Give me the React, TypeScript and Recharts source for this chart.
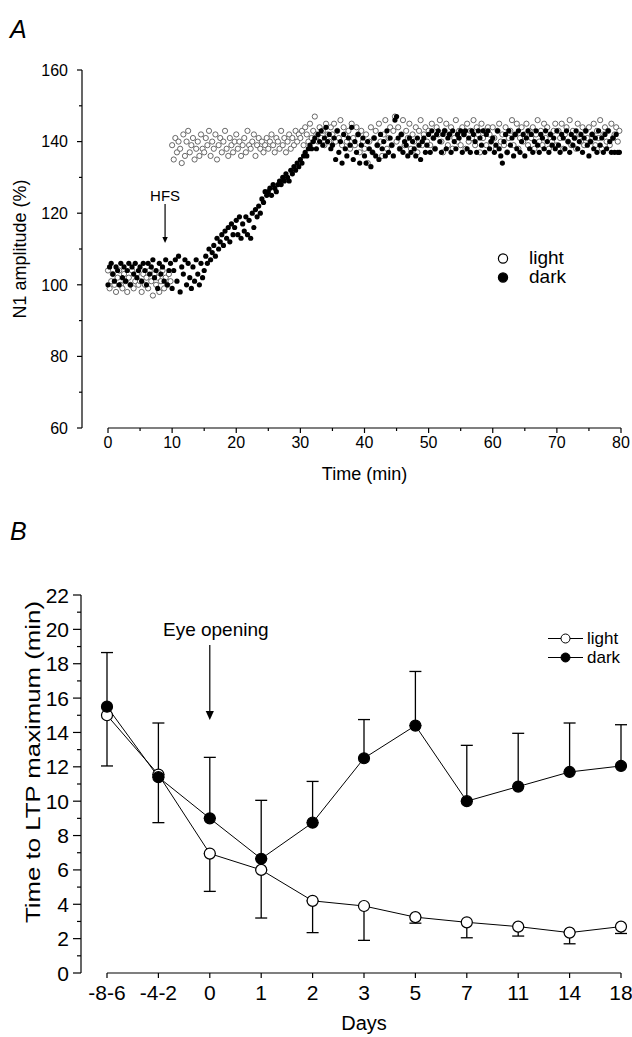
import React from "react";
import {
  ScatterChart,
  Scatter,
  LineChart,
  Line,
  ErrorBar,
  XAxis,
  YAxis,
  ReferenceLine,
  Legend,
  Label,
} from "recharts";

const FONT = '"Liberation Sans", Arial, Helvetica, sans-serif';

// ---- Panel A: N1 amplitude (%) after HFS, one sweep every 15 s ----
const SAMPLE_MIN = 0.25;
const HFS_MIN = 8.9;

const lightAmp = [
  104, 99, 101, 103, 100, 98, 102, 104, 100, 99, 103, 101, 98, 102, 100, 104, 99, 101, 103, 100,
  101, 98, 103, 100, 102, 99, 104, 101, 97, 103, 100, 102, 98, 101, 104, 99, 102, 100, 103, 101,
  139, 135, 141, 137, 140, 138, 134, 142, 136, 140, 143, 137, 139, 141, 135, 138, 140, 136, 142, 138,
  137, 141, 139, 143, 136, 140, 138, 142, 135, 139, 141, 137, 140, 143, 138, 136, 141, 139, 137, 140,
  142, 138, 140, 136, 139, 141, 137, 143, 139, 138, 140, 142, 136, 139, 141, 138, 140, 137, 139, 141,
  138, 140, 142, 139, 137, 141, 140, 138, 143, 139, 141, 137, 140, 142, 138, 141, 139, 143, 140, 142,
  141, 143, 139, 144, 142, 140, 145, 141, 143, 147, 142, 140, 144, 141, 143, 139, 145, 142, 140, 144,
  142, 145, 140, 143, 141, 146, 139, 144, 142, 140, 143, 138, 145, 141, 139, 144, 142, 137, 143, 140,
  138, 142, 134, 140, 144, 137, 141, 143, 139, 145, 140, 136, 142, 146, 138, 141, 144, 139, 143, 147,
  140, 144, 138, 142, 146, 139, 143, 141, 145, 138, 142, 140, 144, 137, 143, 146, 139, 142, 144, 140,
  143, 139, 145, 141, 138, 144, 142, 146, 140, 137, 143, 145, 139, 142, 144, 138, 141, 146, 140, 143,
  139, 144, 142, 138, 145, 140, 143, 141, 146, 139, 144, 142, 137, 145, 141, 143, 139, 144, 142, 140,
  144, 141, 138, 143, 145, 140, 142, 139, 144, 137, 141, 143, 146, 139, 142, 145, 138, 141, 144, 140,
  142, 145, 139, 143, 141, 144, 138, 142, 146, 140, 143, 139, 145, 141, 144, 138, 142, 140, 143, 145,
  139, 143, 141, 145, 138, 142, 144, 140, 146, 139, 143, 141, 138, 145, 142, 140, 144, 139, 143, 141,
  144, 140, 142, 145, 139, 143, 141, 146, 138, 142, 144, 140, 143, 139, 145, 141, 142, 144, 140, 143,
];

const darkAmp = [
  100, 105, 106, 103, 101, 105, 104, 100, 106, 102, 105, 101, 104, 106, 100, 105, 103, 106, 102, 104,
  105, 101, 106, 104, 100, 106, 103, 105, 107, 102, 104, 99, 106, 103, 105, 101, 107, 100, 104, 106,
  99, 104, 107, 101, 108, 98, 105, 103, 107, 100, 106, 102, 99, 105, 101, 107, 103, 100, 106, 102,
  104, 108, 106, 110, 107, 109, 111, 108, 113, 110, 112, 114, 111, 115, 113, 116, 112, 117, 114, 116,
  118, 114, 119, 113, 117, 115, 119, 114, 118, 113, 120, 116, 121, 119, 122, 120, 124, 123, 126, 125,
  126, 127, 125, 128, 127, 126, 128, 129, 128, 130, 129, 131, 130, 129, 132, 131, 133, 132, 134, 133,
  135, 134, 136, 137, 136, 138, 139, 138, 140, 141, 138, 142, 140, 143, 139, 141, 144, 140, 142, 138,
  139, 141, 135, 143, 137, 140, 134, 142, 138, 136, 141, 139, 144, 135, 140, 137, 142, 134, 139, 141,
  136, 134, 140, 138, 133, 137, 141, 136, 139, 135, 142, 138, 140, 136, 143, 137, 141, 139, 136, 146,
  147, 141, 138, 142, 137, 140, 139, 136, 141, 137, 140, 138, 136, 141, 139, 135, 140, 141, 137, 139,
  142, 137, 143, 141, 138, 142, 143, 140, 137, 142, 143, 138, 141, 142, 137, 143, 140, 138, 142, 141,
  143, 137, 142, 143, 138, 141, 137, 143, 142, 140, 137, 143, 141, 139, 143, 137, 142, 143, 138, 140,
  141, 137, 139, 143, 138, 136, 134, 140, 142, 137, 143, 139, 141, 136, 142, 138, 143, 137, 140, 142,
  136, 141, 143, 138, 142, 137, 140, 143, 139, 137, 142, 141, 138, 143, 140, 137, 142, 139, 141, 138,
  143, 139, 137, 142, 141, 138, 143, 140, 137, 142, 139, 141, 143, 138, 140, 142, 137, 141, 143, 139,
  136, 140, 142, 138, 141, 137, 143, 139, 141, 137, 142, 138, 143, 140, 137, 141, 137, 142, 137, 137,
];

const timeTicks = [0, 5, 10, 15, 20, 25, 30, 35, 40, 45, 50, 55, 60, 65, 70, 75, 80];
const ampTicks = [60, 70, 80, 90, 100, 110, 120, 130, 140, 150, 160];

// ---- Panel B: time to LTP maximum (min) by age ----
const days = ["-8-6", "-4-2", "0", "1", "2", "3", "5", "7", "11", "14", "18"];
const lightMean = [15.0, 11.55, 6.95, 6.0, 4.2, 3.9, 3.25, 2.95, 2.7, 2.35, 2.7];
const lightErrDown = [2.95, 2.8, 2.2, 2.8, 1.85, 2.0, 0.35, 0.9, 0.55, 0.65, 0.4];
const darkMean = [15.5, 11.4, 9.0, 6.65, 8.75, 12.5, 14.4, 10.0, 10.85, 11.7, 12.05];
const darkErrUp = [3.15, 3.15, 3.55, 3.4, 2.4, 2.25, 3.15, 3.25, 3.1, 2.85, 2.4];
const minTicks = [0, 1, 2, 3, 4, 5, 6, 7, 8, 9, 10, 11, 12, 13, 14, 15, 16, 17, 18, 19, 20, 21, 22];
const EYE_OPENING_INDEX = 2;

const SERIES_ORDER = ["light", "dark"];

const lightData = lightAmp.map((v, i) => ({ t: i * SAMPLE_MIN, v }));
const darkData = darkAmp.map((v, i) => ({ t: i * SAMPLE_MIN, v }));

const ageData = days.map((d, i) => ({
  idx: i,
  day: d,
  light: lightMean[i],
  lightErr: [lightErrDown[i], 0],
  dark: darkMean[i],
  darkErr: [0, darkErrUp[i]],
}));

const ordered = (payload: any[] = []) =>
  payload.slice().sort((a, b) => SERIES_ORDER.indexOf(a.value) - SERIES_ORDER.indexOf(b.value));

const TimeTick = ({ x, y, payload }: any) => {
  const major = payload.value % 10 === 0;
  return (
    <g>
      <line x1={x} x2={x} y1={y} y2={y + (major ? 5 : 3)} stroke="#000" strokeWidth={1.2} />
      {major && (
        <text x={x} y={y + 20} textAnchor="middle" fontSize={16} fontFamily={FONT} fill="#000">
          {payload.value}
        </text>
      )}
    </g>
  );
};

const AmpTick = ({ x, y, payload }: any) => {
  const major = payload.value % 20 === 0;
  return (
    <g>
      <line x1={x - (major ? 5 : 3)} x2={x} y1={y} y2={y} stroke="#000" strokeWidth={1.2} />
      {major && (
        <text x={x - 14} y={y} dy="0.36em" textAnchor="end" fontSize={16} fontFamily={FONT} fill="#000">
          {payload.value}
        </text>
      )}
    </g>
  );
};

const DayTick = ({ x, y, payload }: any) => (
  <g>
    <line x1={x} x2={x} y1={y} y2={y + 5} stroke="#000" strokeWidth={1.2} />
    <text x={x} y={y + 27} textAnchor="middle" fontSize={21} fontFamily={FONT} fill="#000">
      {days[payload.value]}
    </text>
  </g>
);

const MinTick = ({ x, y, payload }: any) => {
  const major = payload.value % 2 === 0;
  return (
    <g>
      <line x1={x - (major ? 8 : 4)} x2={x} y1={y} y2={y} stroke="#000" strokeWidth={1.2} />
      {major && (
        <text x={x - 12} y={y} dy="0.36em" textAnchor="end" fontSize={21} fontFamily={FONT} fill="#000">
          {payload.value}
        </text>
      )}
    </g>
  );
};

const Arrow = ({ x1, y1, x2, y2, text, fontSize, head, gap, dx }: any) => (
  <g>
    <line x1={x1} y1={y1} x2={x2} y2={y2 - head} stroke="#000" strokeWidth={1.2} />
    <polygon
      points={`${x2 - head / 2.2},${y2 - head} ${x2 + head / 2.2},${y2 - head} ${x2},${y2}`}
      fill="#000"
    />
    <text x={x1 + dx} y={y1 - gap} textAnchor="middle" fontSize={fontSize} fontFamily={FONT} fill="#000">
      {text}
    </text>
  </g>
);

const LegendA = ({ payload }: any) => (
  <div style={{ fontFamily: FONT, fontSize: 19, color: "#000" }}>
    {ordered(payload).map((e: any) => (
      <div key={e.value} style={{ display: "flex", alignItems: "center", height: 19 }}>
        <svg width={18} height={19}>
          <circle
            cx={9}
            cy={10.5}
            r={4.6}
            fill={e.value === "light" ? "#fff" : "#000"}
            stroke="#000"
            strokeWidth={1.2}
          />
        </svg>
        <span style={{ marginLeft: 17, lineHeight: "19px" }}>{e.value}</span>
      </div>
    ))}
  </div>
);

const LegendB = ({ payload }: any) => (
  <div style={{ fontFamily: FONT, fontSize: 17, color: "#000" }}>
    {ordered(payload).map((e: any) => (
      <div key={e.value} style={{ display: "flex", alignItems: "center", height: 19 }}>
        <svg width={38} height={19}>
          <line x1={2} x2={37} y1={9.5} y2={9.5} stroke="#000" strokeWidth={1} />
          <circle
            cx={19.5}
            cy={9.5}
            r={4.5}
            fill={e.value === "light" ? "#fff" : "#000"}
            stroke="#000"
            strokeWidth={1}
          />
        </svg>
        <span style={{ marginLeft: 3, lineHeight: "19px" }}>{e.value}</span>
      </div>
    ))}
  </div>
);

const panelLetter: React.CSSProperties = {
  position: "absolute",
  left: 10,
  fontFamily: FONT,
  fontStyle: "italic",
  fontSize: 25,
  lineHeight: "25px",
  color: "#000",
};

export default function App() {
  return (
    <div
      style={{
        position: "absolute",
        left: 0,
        top: 0,
        width: 632,
        height: 1037,
        background: "#fff",
        overflow: "hidden",
      }}
    >
      <div style={{ ...panelLetter, top: 17 }}>A</div>
      <div style={{ ...panelLetter, top: 519 }}>B</div>

      <div style={{ position: "absolute", left: 0, top: 0 }}>
        <ScatterChart width={632} height={500} margin={{ top: 70, right: 11, bottom: 12, left: 0 }}>
          <XAxis
            type="number"
            dataKey="t"
            domain={[-4.0546, 80]}
            ticks={timeTicks}
            interval={0}
            axisLine={false}
            tickLine={false}
            tickSize={0}
            tickMargin={0}
            height={60}
            tick={(p: any) => <TimeTick {...p} />}
          >
            <Label
              content={({ viewBox }: any) => (
                <text
                  x={viewBox.x + viewBox.width / 2 + 13}
                  y={viewBox.y + 52}
                  textAnchor="middle"
                  fontSize={18}
                  fontFamily={FONT}
                  fill="#000"
                >
                  Time (min)
                </text>
              )}
            />
          </XAxis>
          <YAxis
            type="number"
            dataKey="v"
            domain={[60, 160]}
            ticks={ampTicks}
            interval={0}
            width={82}
            axisLine={{ stroke: "#000", strokeWidth: 1.2 }}
            tickLine={false}
            tickSize={0}
            tickMargin={0}
            tick={(p: any) => <AmpTick {...p} />}
          >
            <Label
              content={({ viewBox }: any) => {
                const cx = viewBox.x + 20;
                const cy = viewBox.y + viewBox.height / 2;
                return (
                  <text
                    x={cx}
                    y={cy}
                    transform={`rotate(-90 ${cx} ${cy})`}
                    textAnchor="middle"
                    dominantBaseline="central"
                    fontSize={18}
                    fontFamily={FONT}
                    fill="#000"
                  >
                    N1 amplitude (%)
                  </text>
                );
              }}
            />
          </YAxis>
          <ReferenceLine
            segment={[
              { x: 0, y: 60 },
              { x: 80, y: 60 },
            ]}
            stroke="#000"
            strokeWidth={1.2}
            ifOverflow="visible"
          />
          <ReferenceLine
            segment={[
              { x: HFS_MIN, y: 122.6 },
              { x: HFS_MIN, y: 111.7 },
            ]}
            ifOverflow="visible"
            shape={(p: any) => <Arrow {...p} text="HFS" fontSize={15} head={6} gap={3} dx={0} />}
          />
          <Scatter
            name="light"
            data={lightData}
            isAnimationActive={false}
            shape={(p: any) => (
              <circle cx={p.cx} cy={p.cy} r={2.6} fill="#fff" stroke="#444" strokeWidth={0.8} />
            )}
          />
          <Scatter
            name="dark"
            data={darkData}
            isAnimationActive={false}
            shape={(p: any) => <circle cx={p.cx} cy={p.cy} r={2.6} fill="#000" />}
          />
          <Legend
            layout="vertical"
            align="center"
            verticalAlign="middle"
            content={<LegendA />}
            wrapperStyle={{ left: 494, top: 248, width: 120 }}
          />
        </ScatterChart>
      </div>

      <div style={{ position: "absolute", left: 0, top: 500 }}>
        <LineChart
          width={632}
          height={537}
          data={ageData}
          margin={{ top: 95, right: 11, bottom: 0, left: 0 }}
        >
          <XAxis
            type="number"
            dataKey="idx"
            domain={[-0.5058, 10]}
            ticks={days.map((_, i) => i)}
            interval={0}
            axisLine={false}
            tickLine={false}
            tickSize={0}
            tickMargin={0}
            height={64}
            tick={(p: any) => <DayTick {...p} />}
          >
            <Label
              content={({ viewBox }: any) => (
                <text
                  x={viewBox.x + viewBox.width / 2 + 13}
                  y={viewBox.y + 57}
                  textAnchor="middle"
                  fontSize={20}
                  fontFamily={FONT}
                  fill="#000"
                >
                  Days
                </text>
              )}
            />
          </XAxis>
          <YAxis
            type="number"
            domain={[0, 22]}
            ticks={minTicks}
            interval={0}
            width={81}
            axisLine={{ stroke: "#000", strokeWidth: 1.2 }}
            tickLine={false}
            tickSize={0}
            tickMargin={0}
            tick={(p: any) => <MinTick {...p} />}
          >
            <Label
              content={({ viewBox }: any) => {
                const cx = viewBox.x + 33;
                const cy = viewBox.y + viewBox.height / 2 - 22;
                return (
                  <text
                    x={cx}
                    y={cy}
                    transform={`rotate(-90 ${cx} ${cy})`}
                    textAnchor="middle"
                    dominantBaseline="central"
                    fontSize={20}
                    fontFamily={FONT}
                    fill="#000"
                    textLength={322}
                    lengthAdjust="spacingAndGlyphs"
                  >
                    Time to LTP maximum (min)
                  </text>
                );
              }}
            />
          </YAxis>
          <ReferenceLine
            segment={[
              { x: 0, y: 0 },
              { x: 10, y: 0 },
            ]}
            stroke="#000"
            strokeWidth={1.2}
            ifOverflow="visible"
          />
          <ReferenceLine
            segment={[
              { x: EYE_OPENING_INDEX, y: 19.09 },
              { x: EYE_OPENING_INDEX, y: 14.73 },
            ]}
            ifOverflow="visible"
            shape={(p: any) => (
              <Arrow {...p} text="Eye opening" fontSize={19} head={9} gap={9} dx={6} />
            )}
          />
          <Line
            name="light"
            dataKey="light"
            type="linear"
            stroke="#000"
            strokeWidth={1}
            isAnimationActive={false}
            activeDot={false}
            dot={{ r: 5.5, fill: "#fff", stroke: "#000", strokeWidth: 1.2 }}
          >
            <ErrorBar
              dataKey="lightErr"
              direction="y"
              width={6}
              stroke="#000"
              strokeWidth={1.3}
              isAnimationActive={false}
            />
          </Line>
          <Line
            name="dark"
            dataKey="dark"
            type="linear"
            stroke="#000"
            strokeWidth={1}
            isAnimationActive={false}
            activeDot={false}
            dot={{ r: 5.5, fill: "#000", stroke: "#000", strokeWidth: 1.2 }}
          >
            <ErrorBar
              dataKey="darkErr"
              direction="y"
              width={6}
              stroke="#000"
              strokeWidth={1.3}
              isAnimationActive={false}
            />
          </Line>
          <Legend
            layout="vertical"
            align="center"
            verticalAlign="middle"
            content={<LegendB />}
            wrapperStyle={{ left: 546, top: 129, width: 90 }}
          />
        </LineChart>
      </div>
    </div>
  );
}
